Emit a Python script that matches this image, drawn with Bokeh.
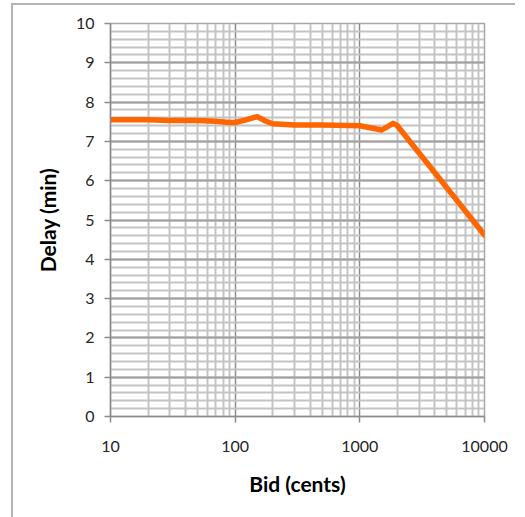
from bokeh.plotting import figure
from bokeh.models import FixedTicker, Range1d
from bokeh.embed import file_html
from bokeh.resources import INLINE

# Data
bid_cents = [10, 20, 30, 50, 70, 90, 100, 120, 150, 175, 200, 300, 500, 1000, 1500, 1850, 2000, 10000]
delay_min = [7.55, 7.55, 7.53, 7.53, 7.51, 7.48, 7.48, 7.54, 7.63, 7.52, 7.45, 7.42, 7.42, 7.40, 7.29, 7.46, 7.40, 4.62]

x_ticks = [10, 100, 1000, 10000]
x_tick_labels = ["10", "100", "1000", "10000"]
x_minor = [m * d for d in (10, 100, 1000) for m in range(2, 10)]
y_ticks = list(range(0, 11))
y_minor = [round(i * 0.2, 1) for i in range(0, 51)]

p = figure(
    width=504, height=514,
    x_axis_type="log",
    x_range=Range1d(10, 10000), y_range=Range1d(0, 10),
    output_backend="svg", toolbar_location=None,
    min_border_left=97, min_border_right=33, min_border_top=18, min_border_bottom=103,
    styles={"border-top": "2px solid #b4b4b4", "border-left": "2px solid #b4b4b4",
            "margin-top": "3px", "margin-left": "11px"},
)
p.outline_line_color = "#a6a6a6"
p.outline_line_width = 1.5

p.xaxis.ticker = FixedTicker(ticks=x_ticks, minor_ticks=x_minor)
p.yaxis.ticker = FixedTicker(ticks=y_ticks, minor_ticks=y_minor)
p.xaxis.major_label_overrides = {t: l for t, l in zip(x_ticks, x_tick_labels)}

for ax in (p.xaxis, p.yaxis):
    ax.major_tick_in = 0
    ax.major_tick_out = 6
    ax.minor_tick_in = 0
    ax.minor_tick_out = 0
    ax.axis_line_color = "#8c8c8c"
    ax.axis_line_width = 1.5
    ax.major_tick_line_color = "#8c8c8c"
    ax.major_tick_line_width = 1.5
    ax.major_label_text_font = "Lato"
    ax.major_label_text_font_size = "16px"
    ax.major_label_text_color = "#262626"
    ax.axis_label_text_font = "Lato"
    ax.axis_label_text_font_style = "bold"
    ax.axis_label_text_font_size = "21px"
    ax.axis_label_text_color = "#000000"

p.xaxis.axis_label = "Bid (cents)"
p.yaxis.axis_label = "Delay (min)"
p.xaxis.major_label_standoff = 18
p.yaxis.major_label_standoff = 10
p.xaxis.axis_label_standoff = 16
p.yaxis.axis_label_standoff = 13

p.xgrid.grid_line_color = "#8c8c8c"
p.xgrid.grid_line_width = 1.5
p.xgrid.minor_grid_line_color = "#c4c4c4"
p.xgrid.minor_grid_line_width = 2
p.ygrid.grid_line_color = "#a0a0a0"
p.ygrid.grid_line_width = 2
p.ygrid.minor_grid_line_color = "#c4c4c4"
p.ygrid.minor_grid_line_width = 2

p.line(bid_cents, delay_min, line_color="#ff6600", line_width=5.5,
       line_join="round", line_cap="round")

open("out.html", "w").write(file_html(p, INLINE))
